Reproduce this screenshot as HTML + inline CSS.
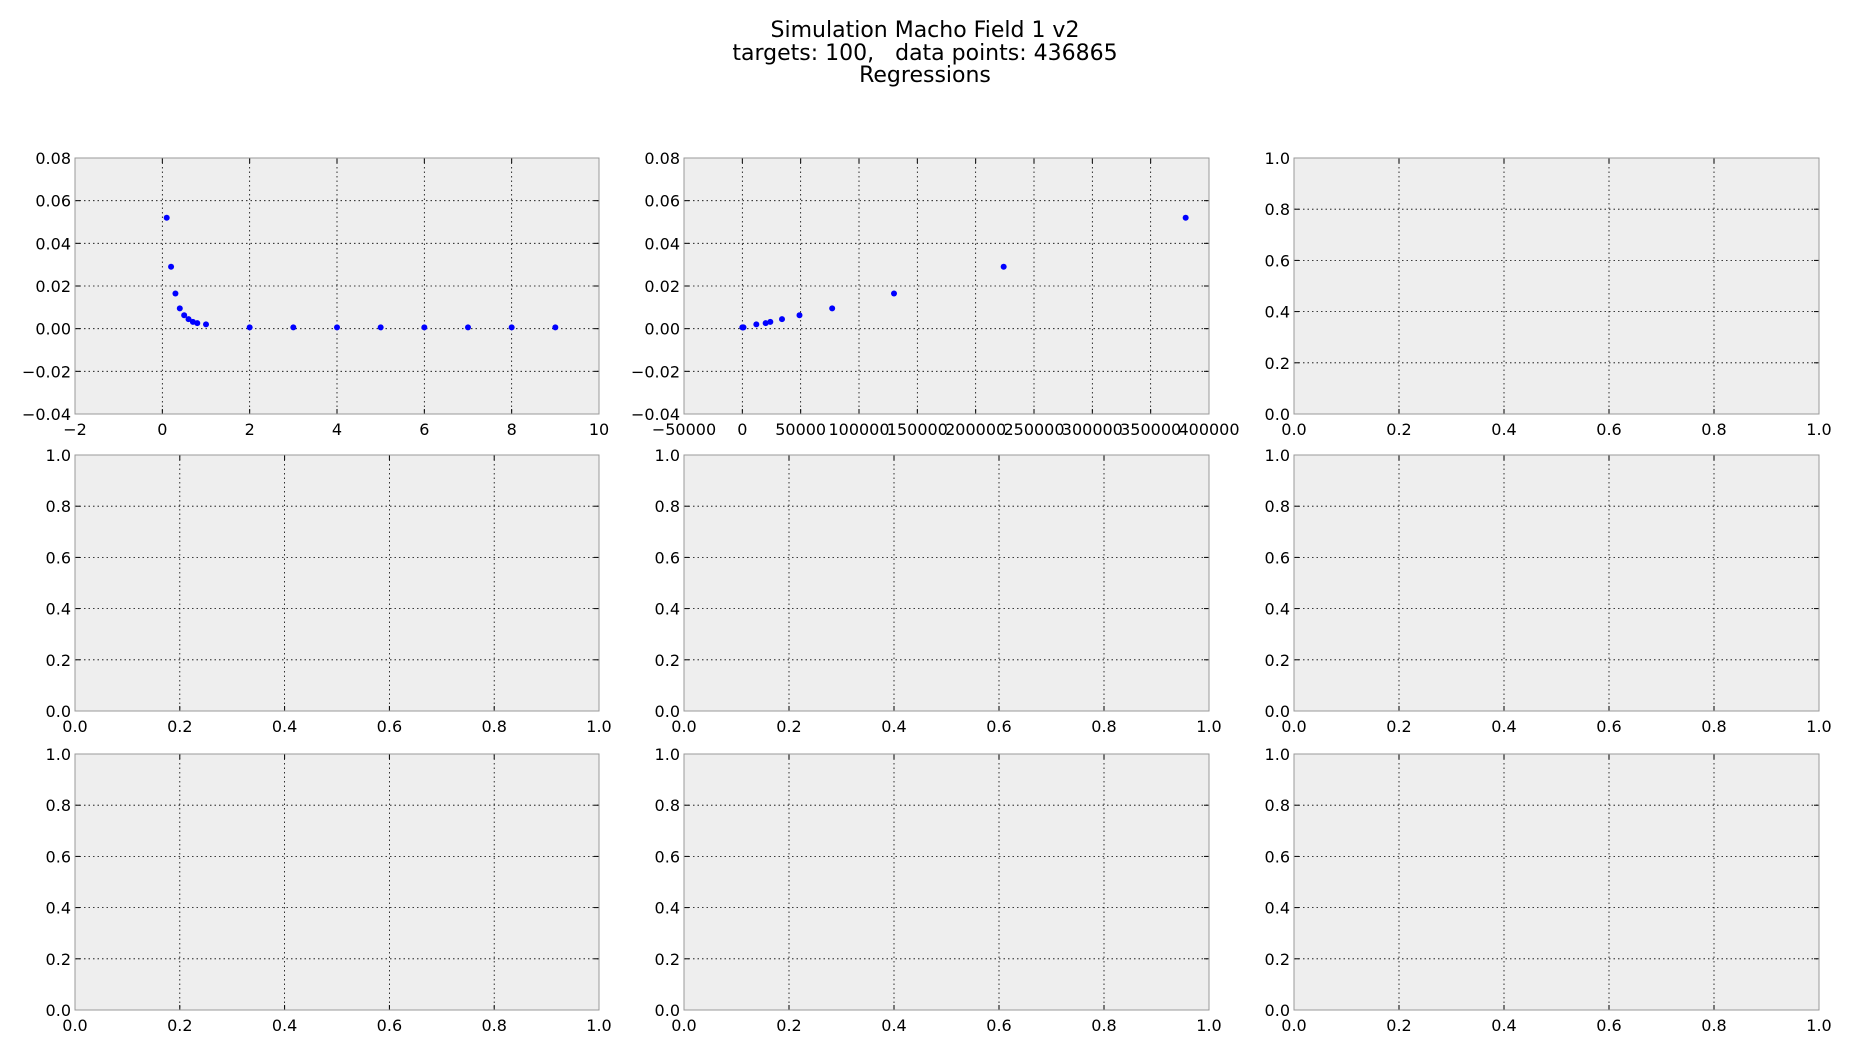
<!DOCTYPE html>
<html><head><meta charset="utf-8"><style>
body{margin:0;background:#fff;}
svg{display:block;font-family:"DejaVu Sans","Liberation Sans",sans-serif;}
</style></head><body>
<svg id="fig" width="1850" height="1050">
<text x="925" y="37" text-anchor="middle" font-size="22">Simulation Macho Field 1 v2</text>
<text x="925" y="60" text-anchor="middle" font-size="22" xml:space="preserve">targets: 100,   data points: 436865</text>
<text x="925" y="82" text-anchor="middle" font-size="22">Regressions</text>
</svg>
<script>
const p1X=[0.1,0.2,0.3,0.4,0.5,0.6,0.7,0.8,1,2,3,4,5,6,7,8,9];
const p1Y=[0.052,0.029,0.0165,0.0095,0.0063,0.0045,0.0032,0.0026,0.002,0.0006,0.0006,0.0006,0.0006,0.0006,0.0006,0.0006,0.0006];
const p2X=[0,500,1000,12000,20000,24000,34000,49000,77000,130000,224000,380000];
const p2Y=[0.0006,0.0006,0.0006,0.002,0.0026,0.0032,0.0045,0.0063,0.0095,0.0165,0.029,0.052];
const p1XTicks=[-2,0,2,4,6,8,10];
const p1XLabels=["\u22122","0","2","4","6","8","10"];
const p2XTicks=[-50000,0,50000,100000,150000,200000,250000,300000,350000,400000];
const p2XLabels=["\u221250000","0","50000","100000","150000","200000","250000","300000","350000","400000"];
const sYTicks=[-0.04,-0.02,0,0.02,0.04,0.06,0.08];
const sYLabels=["\u22120.04","\u22120.02","0.00","0.02","0.04","0.06","0.08"];
const uTicks=[0,0.2,0.4,0.6,0.8,1.0];
const uLabels=["0.0","0.2","0.4","0.6","0.8","1.0"];

const NS="http://www.w3.org/2000/svg";
const svg=document.getElementById('fig');
const cols=[[75,599],[684,1209],[1294,1819]];
const rows=[[158,414],[455,711],[754,1010]];
function mk(t,a,parent){const e=document.createElementNS(NS,t);for(const k in a)e.setAttribute(k,a[k]);parent.appendChild(e);return e;}

function panel(idx,L,R,T,B,xr,yr,xt,xl,yt,yl,X,Y){
  const g=mk('g',{},svg);
  
  
  const sx=v=>L+(v-xr[0])/(xr[1]-xr[0])*(R-L);
  const sy=v=>B-(v-yr[0])/(yr[1]-yr[0])*(B-T);
  const bg=mk('rect',{x:L,y:T,width:R-L,height:B-T,fill:'#eeeeee'},g);
  
  
  xt.forEach((v,i)=>{const x=sx(v);
    const gl=mk('line',{x1:x,x2:x,y1:T,y2:B,stroke:'#000','stroke-width':0.8,'stroke-dasharray':'1.5,3'},g);
    
    
    mk('line',{x1:x,x2:x,y1:B,y2:B-5,stroke:'#000'},g);
    mk('line',{x1:x,x2:x,y1:T,y2:T+5,stroke:'#000'},g);
    const t=mk('text',{x:x,y:B+21,'text-anchor':'middle','font-size':16},g);t.textContent=xl[i];
    
    
  });
  yt.forEach((v,i)=>{const y=sy(v);
    const gl=mk('line',{x1:L,x2:R,y1:y,y2:y,stroke:'#000','stroke-width':0.8,'stroke-dasharray':'1.5,3'},g);
    
    
    mk('line',{x1:L,x2:L+5,y1:y,y2:y,stroke:'#000'},g);
    mk('line',{x1:R,x2:R-5,y1:y,y2:y,stroke:'#000'},g);
    const t=mk('text',{x:L-4,y:y+6,'text-anchor':'end','font-size':16},g);t.textContent=yl[i];
    
    
  });
  const fr=mk('rect',{x:L,y:T,width:R-L,height:B-T,fill:'none',stroke:'#999','stroke-width':1},g);
  
  
  if(X){X.forEach((v,i)=>{
    const c=mk('circle',{cx:sx(v),cy:sy(Y[i]),r:3,fill:'#0000ff'},g);
    
    
  });}
}
let idx=0;
rows.forEach((r,ri)=>cols.forEach((c,ci)=>{
  idx++;
  if(ri===0&&ci===0) panel(idx,c[0],c[1],r[0],r[1],[-2,10],[-0.04,0.08],p1XTicks,p1XLabels,sYTicks,sYLabels,p1X,p1Y);
  else if(ri===0&&ci===1) panel(idx,c[0],c[1],r[0],r[1],[-50000,400000],[-0.04,0.08],p2XTicks,p2XLabels,sYTicks,sYLabels,p2X,p2Y);
  else panel(idx,c[0],c[1],r[0],r[1],[0,1],[0,1],uTicks,uLabels,uTicks,uLabels,null,null);
}));
</script>
</body></html>
